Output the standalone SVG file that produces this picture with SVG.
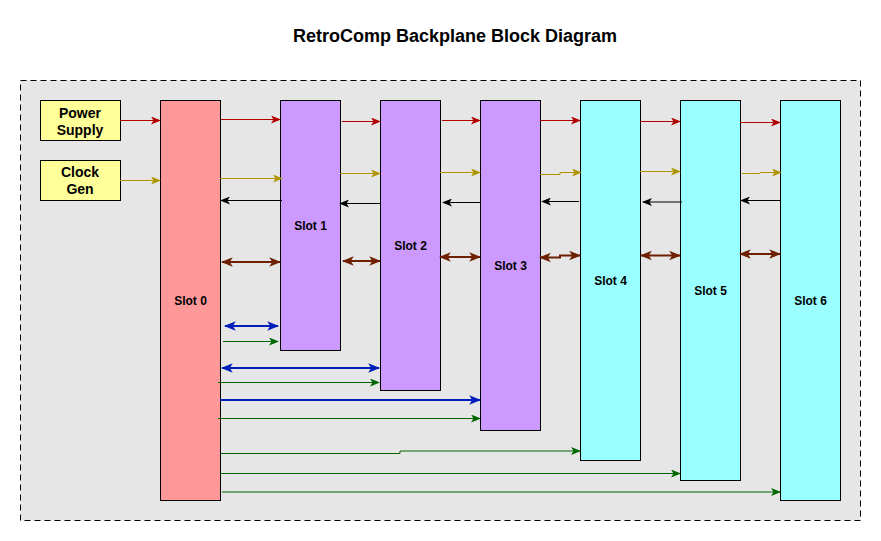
<svg xmlns="http://www.w3.org/2000/svg" width="881" height="541" viewBox="0 0 881 541">
<style>
text{font-family:"Liberation Sans",Arial,sans-serif;font-weight:bold;fill:#000;text-anchor:middle}
.title{font-size:18px}
.lbl{font-size:12px}
.src{font-size:14px}
.box{stroke:#000;stroke-width:1}
.c{fill:none}
.red{stroke:#b20000;stroke-width:1;marker-end:url(#mRed)}
.gold{stroke:#b09500;stroke-width:1;marker-end:url(#mGold)}
.blk{stroke:#000;stroke-width:1;marker-end:url(#mBlk)}
.brn{stroke:#6d1f00;stroke-width:2;marker-start:url(#mBrn);marker-end:url(#mBrn)}
.blu2{stroke:#001dbc;stroke-width:2;marker-start:url(#mBlu);marker-end:url(#mBlu)}
.blu{stroke:#001dbc;stroke-width:2;marker-end:url(#mBlu)}
.grn{stroke:#006600;stroke-width:1;marker-end:url(#mGrn)}
</style>
<defs>
<marker id="mRed" viewBox="0 0 10 8" refX="9" refY="4" markerWidth="10" markerHeight="8" markerUnits="userSpaceOnUse" orient="auto-start-reverse"><path d="M0,0 L10,4 L0,8 L2.5,4 z" fill="#b20000"/></marker>
<marker id="mGold" viewBox="0 0 10 8" refX="9" refY="4" markerWidth="10" markerHeight="8" markerUnits="userSpaceOnUse" orient="auto-start-reverse"><path d="M0,0 L10,4 L0,8 L2.5,4 z" fill="#b09500"/></marker>
<marker id="mBlk" viewBox="0 0 10 8" refX="9" refY="4" markerWidth="10" markerHeight="8" markerUnits="userSpaceOnUse" orient="auto-start-reverse"><path d="M0,0 L10,4 L0,8 L2.5,4 z" fill="#000"/></marker>
<marker id="mGrn" viewBox="0 0 10 8" refX="9" refY="4" markerWidth="10" markerHeight="8" markerUnits="userSpaceOnUse" orient="auto-start-reverse"><path d="M0,0 L10,4 L0,8 L2.5,4 z" fill="#006600"/></marker>
<marker id="mBrn" viewBox="0 0 10 8" refX="9" refY="4" markerWidth="12" markerHeight="11" markerUnits="userSpaceOnUse" orient="auto-start-reverse"><path d="M0,0 L10,4 L0,8 L2.5,4 z" fill="#6d1f00"/></marker>
<marker id="mBlu" viewBox="0 0 10 8" refX="9" refY="4" markerWidth="12" markerHeight="11" markerUnits="userSpaceOnUse" orient="auto-start-reverse"><path d="M0,0 L10,4 L0,8 L2.5,4 z" fill="#001dbc"/></marker>
</defs>
<rect width="881" height="541" fill="#fff"/>
<text class="title" x="455" y="42">RetroComp Backplane Block Diagram</text>
<rect id="backplane" x="20.5" y="80.5" width="840" height="440" fill="#e6e6e6" stroke="#000" stroke-dasharray="6 4"/>

<g id="power"><rect class="box" x="40.5" y="100.5" width="80" height="40" fill="#ffff99"/><text class="src" x="80" y="118">Power</text><text class="src" x="80" y="135">Supply</text></g>
<g id="clock"><rect class="box" x="40.5" y="160.5" width="80" height="40" fill="#ffff99"/><text class="src" x="80" y="177">Clock</text><text class="src" x="80" y="194">Gen</text></g>
<g id="slot0"><rect class="box" x="160.5" y="100.5" width="60" height="400" fill="#ff9999"/><text class="lbl" x="190.5" y="305">Slot 0</text></g>
<g id="slot1"><rect class="box" x="280.5" y="100.5" width="60" height="250" fill="#cc99ff"/><text class="lbl" x="310.5" y="230">Slot 1</text></g>
<g id="slot2"><rect class="box" x="380.5" y="100.5" width="60" height="290" fill="#cc99ff"/><text class="lbl" x="410.5" y="250">Slot 2</text></g>
<g id="slot3"><rect class="box" x="480.5" y="100.5" width="60" height="330" fill="#cc99ff"/><text class="lbl" x="510.5" y="270">Slot 3</text></g>
<g id="slot4"><rect class="box" x="580.5" y="100.5" width="60" height="360" fill="#99ffff"/><text class="lbl" x="610.5" y="285">Slot 4</text></g>
<g id="slot5"><rect class="box" x="680.5" y="100.5" width="60" height="380" fill="#99ffff"/><text class="lbl" x="710.5" y="295">Slot 5</text></g>
<g id="slot6"><rect class="box" x="780.5" y="100.5" width="60" height="400" fill="#99ffff"/><text class="lbl" x="810.5" y="305">Slot 6</text></g>

<g id="connectors" class="c">
<path class="c red" d="M120,120.5 H160"/>
<path class="c gold" d="M120,180.5 H160"/>
<path class="c red" d="M221,119.5 H280"/>
<path class="c red" d="M342,121.5 H380"/>
<path class="c red" d="M442,120.5 H480"/>
<path class="c red" d="M540,120.5 H580"/>
<path class="c red" d="M640,121.5 H680"/>
<path class="c red" d="M740,122.5 H780"/>

<path class="c gold" d="M220,178.5 H282"/>
<path class="c gold" d="M340,173.5 H380"/>
<path class="c gold" d="M440,172.5 H480"/>
<path class="c gold" d="M540,174.5 H560 V172.5 H581"/>
<path class="c gold" d="M640,171.5 H680"/>
<path class="c gold" d="M742,173.5 H760 V172.5 H781"/>

<path class="c blk" d="M282,200.5 H221"/>
<path class="c blk" d="M380,203.5 H340"/>
<path class="c blk" d="M480,202.5 H443"/>
<path class="c blk" d="M579,201.5 H542"/>
<path class="c blk" d="M682,202 H643"/>
<path class="c blk" d="M780,200.5 H741"/>

<path class="c brn" d="M222,262 H280"/>
<path class="c brn" d="M343,261 H380"/>
<path class="c brn" d="M440,257 H480"/>
<path class="c brn" d="M540,257.5 H560 V255.5 H580"/>
<path class="c brn" d="M641,255.5 H680"/>
<path class="c brn" d="M740,254 H780"/>

<path class="c blu2" d="M225,326 H278"/>
<path class="c grn" d="M223,341.5 H278"/>
<path class="c blu2" d="M222,368 H379"/>
<path class="c grn" d="M218,382.5 H379"/>
<path class="c blu" d="M220,400 H480"/>
<path class="c grn" d="M218,418.5 H480"/>
<path class="c grn" d="M221,453.5 H400 V451 H580"/>
<path class="c grn" d="M220,473.5 H680"/>
<path class="c grn" d="M222,492 H780"/>
</g>
</svg>
